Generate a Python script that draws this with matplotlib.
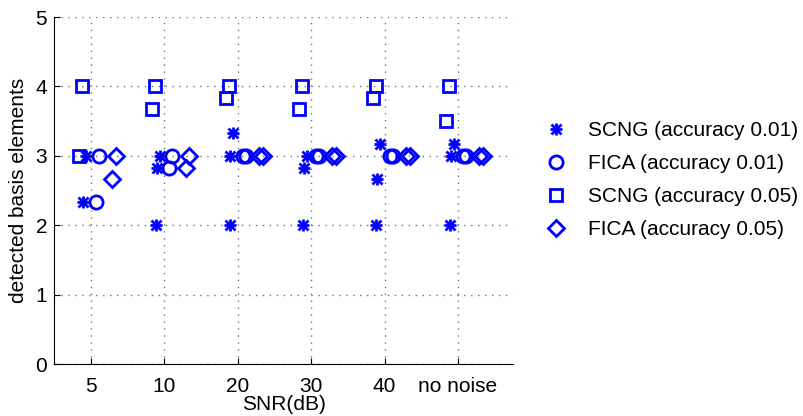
import numpy as np
import matplotlib
matplotlib.use('Agg')
import matplotlib.pyplot as plt
from matplotlib.legend_handler import HandlerTuple

# x categories
snr_labels = ['5', '10', '20', '30', '40', 'no noise']

# detected basis elements, several runs per method (nan = no point)
scng_001_run1 = [3, 3, 3.33, 3, 3.17, 3.17]
scng_001_run2 = [2.33, 2.83, 3, 2.83, 2.67, 3]
scng_001_run3 = [np.nan, 2, 2, 2, 2, 2]

fica_001_run1 = [3, 3, 3, 3, 3, 3]
fica_001_run2 = [2.33, 2.83, 3, 3, 3, 3]

scng_005_run1 = [4, 4, 4, 4, 4, 4]
scng_005_run2 = [3, 3.67, 3.83, 3.67, 3.83, 3.5]

fica_005_run1 = [3, 3, 3, 3, 3, 3]
fica_005_run2 = [2.67, 2.83, 3, 3, 3, 3]


def plot_runs(ax, runs, shifts, **style):
    """Plot every run of one method, slightly shifted around the category."""
    pos = np.arange(1, len(snr_labels) + 1)
    line = None
    for vals, dx in zip(runs, shifts):
        line, = ax.plot(pos + dx, vals, linestyle='none', **style)
    return line


def main():
    plt.rcParams['font.family'] = ['Liberation Sans', 'DejaVu Sans']
    fig = plt.figure(figsize=(8.04, 4.16), dpi=100)
    ax = fig.add_axes([0.0672, 0.125, 0.571, 0.834])

    blue = (0, 0, 1)
    star_plus = dict(marker='+', markersize=9, mew=2, color=blue)
    star_x = dict(marker='x', markersize=7, mew=2, color=blue)

    scng1_runs = [scng_001_run1, scng_001_run2, scng_001_run3]
    scng1_dx = [-0.06, -0.10, -0.11]
    h1a = plot_runs(ax, scng1_runs, scng1_dx, **star_plus)
    h1b = plot_runs(ax, scng1_runs, scng1_dx, **star_x)

    h2 = plot_runs(ax, [fica_001_run1, fica_001_run2], [0.11, 0.07],
                   marker='o', markersize=9.5, mew=2, mfc='none', mec=blue)
    h3 = plot_runs(ax, [scng_005_run1, scng_005_run2], [-0.12, -0.16],
                   marker='s', markersize=8, mew=2, mfc='none', mec=blue)
    h4 = plot_runs(ax, [fica_005_run1, fica_005_run2], [0.34, 0.29],
                   marker='D', markersize=8, mew=2, mfc='none', mec=blue)

    ax.set_xlim(0.5, 6.75)
    ax.set_ylim(0, 5)
    ax.set_xticks(np.arange(1, len(snr_labels) + 1))
    ax.set_xticklabels(snr_labels)
    ax.set_yticks(range(6))
    ax.tick_params(direction='in', labelsize=15, length=4)
    ax.tick_params(axis='x', pad=9)
    ax.tick_params(axis='y', pad=5)
    ax.grid(True, linestyle=(0, (1, 4)), color='0.45', linewidth=1.0)
    ax.spines['top'].set_visible(False)
    ax.spines['right'].set_visible(False)
    ax.set_xlabel('SNR(dB)', fontsize=15, labelpad=0)
    ax.set_ylabel('detected basis elements', fontsize=15, labelpad=5)

    ax.legend([(h1a, h1b), h2, h3, h4],
              ['SCNG (accuracy 0.01)', 'FICA (accuracy 0.01)',
               'SCNG (accuracy 0.05)', 'FICA (accuracy 0.05)'],
              handler_map={tuple: HandlerTuple(ndivide=1, pad=0)},
              loc='center left', bbox_to_anchor=(1.025, 0.53),
              frameon=False, fontsize=15, handlelength=1.2,
              handletextpad=0.95, labelspacing=0.67)

    fig.savefig('out.png', dpi=100)


if __name__ == "__main__":
    main()
